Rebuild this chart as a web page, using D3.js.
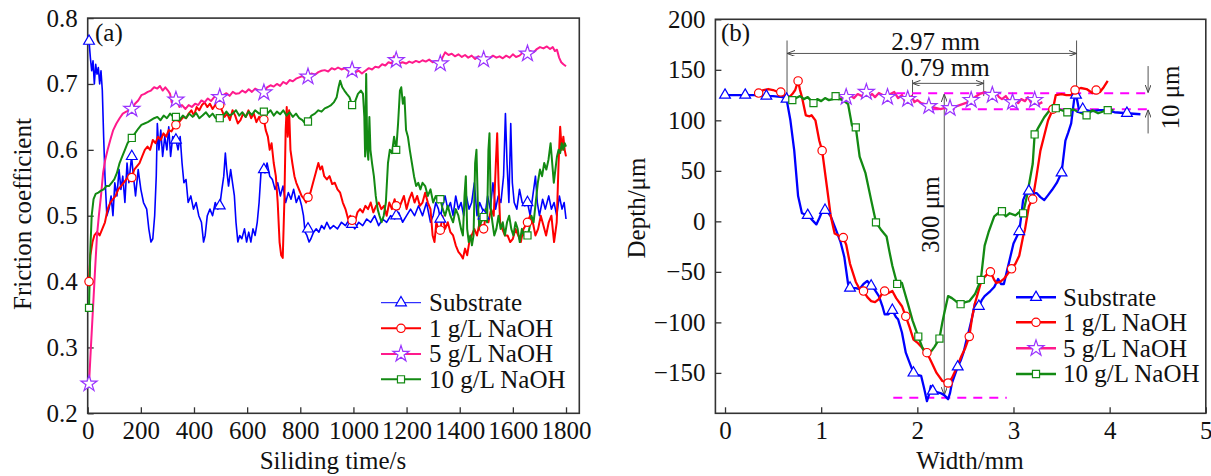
<!DOCTYPE html>
<html>
<head>
<meta charset="utf-8">
<script src="https://cdn.jsdelivr.net/npm/d3@7/dist/d3.min.js"></script>
<style>
  body { margin: 0; background: #fff; }
  svg text { font-family: "Liberation Serif", "Times New Roman", serif; fill: #111; }
</style>
</head>
<body>
<svg id="chart" width="1211" height="476"></svg>
<script>
// ---------- data: panel (a) friction coefficient vs sliding time ----------
const seriesNames = ['Substrate', '1 g/L NaOH', '5 g/L NaOH', '10 g/L NaOH'];
const fricTicks = [0.2, 0.3, 0.4, 0.5, 0.6, 0.7, 0.8];
const timeTicks = [0, 200, 400, 600, 800, 1000, 1200, 1400, 1600, 1800];

const fricSubstrate = [[0,0.77],[5,0.765],[10,0.74],[15,0.72],[20,0.735],[25,0.70],[30,0.73],[35,0.715],[40,0.725],[45,0.70],[50,0.72],[55,0.69],[60,0.62],[65,0.56],[72,0.50],[80,0.51],[88,0.53],[95,0.50],[102,0.55],[110,0.53],[118,0.57],[125,0.54],[132,0.56],[140,0.52],[148,0.58],[155,0.55],[165,0.59],[172,0.56],[180,0.53],[190,0.57],[200,0.54],[210,0.52],[222,0.51],[230,0.48],[238,0.46],[245,0.465],[252,0.50],[258,0.56],[262,0.64],[268,0.60],[275,0.63],[282,0.59],[290,0.62],[298,0.60],[305,0.635],[312,0.59],[320,0.62],[332,0.615],[340,0.60],[348,0.62],[355,0.58],[362,0.55],[370,0.555],[378,0.52],[388,0.53],[398,0.51],[408,0.52],[418,0.50],[428,0.49],[436,0.46],[442,0.47],[450,0.50],[460,0.51],[470,0.50],[480,0.52],[490,0.51],[497,0.515],[505,0.54],[512,0.56],[518,0.595],[523,0.57],[530,0.545],[538,0.57],[545,0.55],[552,0.53],[558,0.49],[565,0.46],[572,0.47],[580,0.465],[590,0.48],[598,0.46],[606,0.475],[614,0.46],[622,0.48],[630,0.47],[638,0.49],[645,0.52],[652,0.565],[660,0.575],[667,0.565],[675,0.58],[685,0.56],[695,0.555],[705,0.54],[715,0.55],[725,0.53],[735,0.545],[745,0.52],[755,0.535],[765,0.525],[775,0.54],[785,0.52],[795,0.53],[805,0.515],[812,0.50],[818,0.475],[825,0.47],[833,0.46],[840,0.465],[850,0.475],[860,0.48],[870,0.475],[880,0.485],[890,0.48],[900,0.49],[912,0.48],[925,0.485],[940,0.48],[955,0.49],[970,0.485],[985,0.495],[995,0.487],[1005,0.48],[1020,0.49],[1035,0.485],[1050,0.495],[1065,0.49],[1080,0.50],[1095,0.485],[1110,0.495],[1125,0.49],[1140,0.50],[1155,0.495],[1170,0.505],[1185,0.49],[1200,0.50],[1215,0.51],[1230,0.50],[1245,0.515],[1260,0.50],[1275,0.52],[1290,0.49],[1300,0.50],[1310,0.52],[1320,0.51],[1327,0.495],[1335,0.515],[1345,0.53],[1355,0.51],[1365,0.52],[1375,0.50],[1385,0.53],[1395,0.51],[1405,0.52],[1415,0.50],[1425,0.53],[1435,0.51],[1445,0.52],[1455,0.55],[1465,0.50],[1475,0.52],[1485,0.51],[1495,0.50],[1505,0.53],[1515,0.51],[1525,0.55],[1535,0.51],[1545,0.53],[1555,0.52],[1565,0.56],[1572,0.655],[1578,0.58],[1585,0.52],[1592,0.64],[1598,0.55],[1605,0.52],[1615,0.51],[1625,0.54],[1635,0.52],[1645,0.515],[1655,0.52],[1665,0.50],[1675,0.53],[1685,0.56],[1692,0.52],[1700,0.50],[1712,0.525],[1722,0.51],[1735,0.53],[1745,0.51],[1755,0.52],[1765,0.50],[1775,0.53],[1785,0.51],[1793,0.52],[1800,0.495]];

const fric1g = [[0,0.40],[5,0.40],[10,0.44],[18,0.46],[25,0.47],[35,0.475],[45,0.47],[55,0.48],[65,0.49],[75,0.51],[85,0.52],[95,0.525],[105,0.53],[115,0.54],[125,0.545],[135,0.55],[145,0.555],[155,0.56],[166,0.558],[175,0.57],[185,0.575],[195,0.58],[205,0.59],[215,0.60],[225,0.605],[235,0.60],[245,0.615],[255,0.61],[265,0.62],[275,0.615],[285,0.625],[295,0.62],[305,0.63],[315,0.628],[325,0.635],[332,0.638],[340,0.64],[350,0.645],[360,0.65],[370,0.648],[380,0.655],[390,0.66],[400,0.652],[410,0.665],[420,0.66],[430,0.668],[440,0.672],[450,0.665],[460,0.67],[470,0.662],[480,0.668],[490,0.672],[497,0.668],[505,0.66],[515,0.65],[525,0.655],[535,0.645],[545,0.66],[555,0.652],[565,0.64],[575,0.645],[585,0.655],[595,0.65],[605,0.66],[615,0.648],[625,0.655],[635,0.642],[645,0.65],[655,0.645],[663,0.646],[670,0.63],[678,0.62],[685,0.60],[692,0.61],[700,0.58],[708,0.56],[715,0.52],[722,0.46],[728,0.44],[734,0.436],[740,0.52],[745,0.63],[749,0.665],[753,0.62],[758,0.66],[763,0.60],[770,0.58],[778,0.56],[785,0.55],[795,0.54],[805,0.53],[815,0.525],[822,0.52],[829,0.528],[838,0.535],[848,0.55],[858,0.565],[868,0.58],[875,0.57],[882,0.575],[890,0.56],[900,0.555],[910,0.56],[920,0.548],[930,0.55],[940,0.54],[950,0.535],[960,0.52],[970,0.51],[980,0.495],[988,0.50],[995,0.493],[1005,0.49],[1015,0.505],[1025,0.51],[1035,0.505],[1045,0.515],[1055,0.51],[1065,0.52],[1075,0.505],[1085,0.515],[1095,0.52],[1105,0.51],[1115,0.515],[1125,0.50],[1135,0.52],[1145,0.51],[1155,0.525],[1161,0.515],[1170,0.51],[1180,0.52],[1190,0.53],[1200,0.51],[1210,0.525],[1220,0.535],[1230,0.52],[1240,0.53],[1250,0.515],[1260,0.52],[1270,0.535],[1280,0.52],[1290,0.51],[1298,0.47],[1305,0.46],[1312,0.49],[1320,0.478],[1327,0.478],[1335,0.50],[1345,0.48],[1355,0.49],[1365,0.475],[1375,0.47],[1385,0.455],[1395,0.445],[1405,0.44],[1412,0.435],[1420,0.45],[1428,0.44],[1436,0.46],[1445,0.47],[1455,0.48],[1465,0.47],[1475,0.49],[1485,0.48],[1490,0.48],[1498,0.50],[1508,0.49],[1518,0.51],[1528,0.50],[1536,0.58],[1541,0.625],[1546,0.55],[1552,0.49],[1560,0.48],[1570,0.47],[1580,0.47],[1590,0.46],[1600,0.465],[1610,0.48],[1620,0.47],[1630,0.46],[1640,0.48],[1648,0.485],[1655,0.49],[1665,0.50],[1675,0.49],[1685,0.47],[1695,0.48],[1705,0.50],[1715,0.485],[1725,0.47],[1735,0.49],[1745,0.50],[1755,0.46],[1765,0.49],[1772,0.58],[1778,0.635],[1784,0.60],[1790,0.62],[1795,0.60],[1800,0.59]];

const fric5g = [[0,0.245],[5,0.245],[12,0.30],[20,0.36],[28,0.42],[35,0.47],[42,0.50],[50,0.53],[58,0.565],[66,0.585],[75,0.60],[85,0.615],[96,0.63],[108,0.64],[120,0.648],[132,0.655],[145,0.658],[156,0.66],[166,0.662],[178,0.67],[190,0.675],[202,0.683],[214,0.685],[226,0.688],[238,0.69],[250,0.695],[262,0.693],[272,0.697],[282,0.69],[292,0.695],[302,0.69],[310,0.685],[316,0.672],[325,0.678],[335,0.676],[345,0.665],[355,0.668],[368,0.662],[380,0.668],[392,0.665],[404,0.67],[416,0.668],[428,0.675],[440,0.672],[452,0.678],[464,0.674],[476,0.68],[488,0.682],[497,0.68],[510,0.683],[522,0.686],[534,0.682],[546,0.688],[558,0.685],[570,0.686],[582,0.69],[594,0.687],[606,0.692],[618,0.688],[630,0.693],[645,0.69],[663,0.687],[675,0.695],[688,0.698],[700,0.696],[712,0.70],[724,0.697],[736,0.703],[748,0.70],[760,0.706],[772,0.704],[784,0.708],[796,0.71],[808,0.712],[818,0.708],[829,0.711],[842,0.716],[855,0.714],[868,0.718],[880,0.72],[892,0.721],[905,0.719],[918,0.724],[930,0.722],[942,0.725],[955,0.722],[968,0.724],[980,0.72],[995,0.721],[1008,0.718],[1020,0.72],[1032,0.716],[1045,0.72],[1058,0.724],[1070,0.722],[1082,0.726],[1095,0.725],[1108,0.73],[1120,0.728],[1132,0.733],[1145,0.731],[1152,0.742],[1161,0.736],[1172,0.731],[1185,0.733],[1198,0.731],[1210,0.734],[1222,0.732],[1235,0.735],[1248,0.733],[1260,0.736],[1272,0.734],[1285,0.737],[1298,0.733],[1310,0.735],[1320,0.734],[1327,0.731],[1335,0.74],[1345,0.748],[1358,0.744],[1370,0.746],[1382,0.742],[1395,0.745],[1408,0.741],[1420,0.744],[1432,0.74],[1445,0.743],[1458,0.738],[1470,0.742],[1482,0.738],[1490,0.737],[1500,0.741],[1512,0.739],[1525,0.743],[1538,0.74],[1550,0.742],[1562,0.739],[1575,0.743],[1588,0.74],[1600,0.745],[1612,0.741],[1625,0.743],[1638,0.748],[1648,0.745],[1655,0.746],[1665,0.75],[1678,0.748],[1690,0.753],[1702,0.756],[1715,0.754],[1728,0.757],[1740,0.753],[1750,0.756],[1758,0.75],[1766,0.752],[1774,0.74],[1782,0.733],[1790,0.73],[1800,0.727]];

const fric10g = [[0,0.36],[5,0.36],[10,0.45],[15,0.50],[22,0.525],[30,0.533],[40,0.535],[50,0.538],[60,0.54],[70,0.545],[80,0.545],[90,0.55],[100,0.555],[110,0.565],[120,0.58],[130,0.59],[140,0.60],[150,0.61],[166,0.618],[178,0.625],[190,0.632],[202,0.638],[214,0.64],[226,0.642],[238,0.645],[250,0.648],[262,0.65],[274,0.645],[286,0.652],[298,0.648],[310,0.655],[322,0.65],[332,0.65],[345,0.645],[358,0.652],[370,0.648],[382,0.655],[395,0.65],[408,0.656],[420,0.648],[432,0.652],[445,0.657],[458,0.65],[470,0.655],[482,0.648],[497,0.648],[510,0.652],[522,0.658],[534,0.652],[546,0.655],[558,0.66],[570,0.652],[582,0.657],[594,0.65],[606,0.658],[618,0.653],[630,0.66],[645,0.655],[663,0.658],[676,0.655],[688,0.66],[700,0.652],[712,0.658],[724,0.654],[736,0.66],[748,0.652],[760,0.657],[772,0.65],[784,0.655],[796,0.648],[808,0.645],[818,0.64],[829,0.643],[842,0.652],[855,0.655],[868,0.66],[880,0.658],[892,0.663],[904,0.665],[916,0.668],[926,0.672],[937,0.68],[944,0.695],[950,0.705],[958,0.695],[966,0.69],[975,0.685],[985,0.68],[995,0.668],[1005,0.672],[1017,0.685],[1028,0.69],[1036,0.685],[1041,0.65],[1044,0.59],[1048,0.715],[1052,0.60],[1056,0.585],[1060,0.65],[1064,0.60],[1070,0.58],[1077,0.56],[1084,0.53],[1091,0.51],[1098,0.50],[1106,0.49],[1114,0.50],[1122,0.52],[1130,0.58],[1137,0.60],[1145,0.595],[1153,0.62],[1161,0.60],[1168,0.64],[1175,0.69],[1180,0.695],[1186,0.67],[1192,0.68],[1198,0.63],[1205,0.62],[1212,0.60],[1220,0.58],[1228,0.56],[1236,0.545],[1244,0.55],[1252,0.54],[1260,0.55],[1270,0.545],[1280,0.53],[1290,0.54],[1300,0.52],[1310,0.53],[1320,0.52],[1327,0.525],[1336,0.51],[1345,0.50],[1355,0.515],[1365,0.50],[1375,0.49],[1385,0.51],[1395,0.50],[1405,0.48],[1412,0.47],[1418,0.53],[1423,0.56],[1428,0.48],[1434,0.46],[1440,0.47],[1446,0.455],[1452,0.47],[1458,0.58],[1463,0.60],[1468,0.52],[1474,0.48],[1480,0.49],[1490,0.498],[1497,0.51],[1503,0.49],[1508,0.60],[1512,0.625],[1517,0.51],[1523,0.49],[1530,0.47],[1538,0.48],[1546,0.50],[1554,0.48],[1562,0.49],[1570,0.47],[1578,0.49],[1586,0.50],[1594,0.48],[1602,0.47],[1610,0.49],[1618,0.48],[1626,0.46],[1634,0.48],[1642,0.47],[1648,0.475],[1655,0.47],[1662,0.48],[1670,0.50],[1678,0.49],[1686,0.52],[1694,0.55],[1702,0.57],[1710,0.56],[1718,0.58],[1726,0.57],[1734,0.585],[1742,0.61],[1748,0.58],[1754,0.55],[1760,0.57],[1766,0.59],[1772,0.60],[1778,0.595],[1784,0.61],[1790,0.60],[1795,0.61],[1800,0.605]];

// marker positions read from (a)
const fricMarkTimes = [5, 166, 332, 497, 663, 829, 995, 1161, 1327, 1490, 1655];
const fricMarkSubstrate = [0.765, 0.59, 0.615, 0.515, 0.57, 0.48, 0.487, 0.50, 0.495, 0.50, 0.52];
const fricMark1g = [0.40, 0.558, 0.638, 0.668, 0.646, 0.528, 0.493, 0.515, 0.478, 0.48, 0.49];
const fricMark5g = [0.245, 0.662, 0.676, 0.68, 0.687, 0.711, 0.721, 0.736, 0.731, 0.737, 0.746];
const fricMark10g = [0.36, 0.618, 0.65, 0.648, 0.658, 0.643, 0.668, 0.60, 0.525, 0.498, 0.47];

// ---------- data: panel (b) wear track depth profile ----------
const depthTicks = [-150, -100, -50, 0, 50, 100, 150, 200];
const widthTicks = [0, 1, 2, 3, 4, 5];

const profSubstrate = [[0.0,125],[0.1,125],[0.21,125],[0.3,125],[0.43,124],[0.5,124],[0.6,123],[0.64,121],[0.68,100],[0.72,70],[0.76,25],[0.8,8],[0.86,6],[0.92,0],[0.95,-3],[0.98,3],[1.02,12],[1.06,10],[1.1,5],[1.16,-10],[1.2,-20],[1.24,-35],[1.28,-62],[1.3,-66],[1.36,-66],[1.4,-67],[1.44,-62],[1.48,-59],[1.52,-64],[1.56,-68],[1.6,-74],[1.64,-85],[1.66,-92],[1.7,-92],[1.74,-88],[1.78,-95],[1.8,-97],[1.84,-110],[1.88,-130],[1.92,-140],[1.96,-150],[2.0,-152],[2.04,-153],[2.07,-165],[2.1,-178],[2.12,-172],[2.14,-163],[2.16,-168],[2.2,-169],[2.24,-170],[2.28,-172],[2.32,-176],[2.34,-170],[2.36,-160],[2.42,-144],[2.45,-138],[2.48,-130],[2.51,-118],[2.54,-107],[2.57,-95],[2.6,-81],[2.64,-84],[2.67,-78],[2.7,-74],[2.76,-69],[2.8,-65],[2.84,-57],[2.87,-62],[2.9,-62],[2.93,-50],[2.96,-38],[3.0,-22],[3.02,-18],[3.06,-10],[3.08,5],[3.1,21],[3.13,28],[3.16,30],[3.2,28],[3.24,28],[3.28,24],[3.32,21],[3.36,26],[3.4,31],[3.45,38],[3.5,48],[3.54,80],[3.57,88],[3.6,97],[3.63,120],[3.65,126],[3.68,111],[3.72,111],[3.8,109],[3.9,110],[3.96,110],[4.05,108],[4.18,107],[4.32,106]];

const prof1g = [[0.35,127],[0.4,130],[0.45,131],[0.5,130],[0.55,128],[0.58,128],[0.62,124],[0.64,123],[0.68,124],[0.7,126],[0.73,130],[0.76,139],[0.78,130],[0.8,123],[0.84,105],[0.88,104],[0.9,105],[0.94,100],[0.98,80],[1.01,70],[1.06,34],[1.1,5],[1.14,-12],[1.18,-14],[1.23,-16],[1.26,-23],[1.3,-42],[1.32,-48],[1.36,-60],[1.4,-67],[1.44,-69],[1.48,-75],[1.52,-79],[1.56,-80],[1.6,-77],[1.63,-72],[1.66,-69],[1.7,-71],[1.74,-69],[1.78,-76],[1.84,-84],[1.88,-94],[1.92,-105],[1.96,-117],[2.0,-120],[2.05,-125],[2.1,-130],[2.15,-140],[2.2,-150],[2.26,-158],[2.29,-159],[2.32,-160],[2.36,-155],[2.4,-147],[2.46,-133],[2.5,-125],[2.54,-114],[2.57,-95],[2.6,-81],[2.66,-61],[2.7,-55],[2.73,-52],[2.76,-50],[2.8,-58],[2.82,-61],[2.86,-60],[2.9,-57],[2.94,-52],[2.98,-47],[3.02,-42],[3.06,-34],[3.1,-15],[3.12,-8],[3.16,15],[3.2,22],[3.24,45],[3.28,70],[3.32,85],[3.36,100],[3.41,111],[3.44,125],[3.5,126],[3.55,125],[3.6,125],[3.64,130],[3.7,132],[3.76,131],[3.82,127],[3.86,130],[3.9,128],[3.94,133],[3.98,139]];

const prof5g = [[1.2,123],[1.24,121],[1.26,123],[1.3,125],[1.34,122],[1.38,126],[1.42,124],[1.47,128],[1.5,124],[1.53,126],[1.56,123],[1.6,127],[1.64,125],[1.69,123],[1.72,126],[1.76,128],[1.8,122],[1.84,125],[1.87,119],[1.9,121],[1.94,124],[1.97,118],[2.0,120],[2.04,117],[2.08,116],[2.12,114],[2.16,113],[2.2,112],[2.24,111],[2.28,112],[2.34,112],[2.38,113],[2.44,115],[2.5,117],[2.56,120],[2.6,123],[2.65,126],[2.7,128],[2.74,126],[2.78,125],[2.82,127],[2.85,123],[2.88,121],[2.92,124],[2.95,120],[2.99,118],[3.02,120],[3.05,117],[3.08,121],[3.12,119],[3.15,123],[3.18,118],[3.22,120],[3.26,116],[3.3,118]];

const prof10g = [[0.64,120],[0.7,120],[0.74,122],[0.78,124],[0.82,121],[0.86,123],[0.92,117],[0.96,121],[1.0,119],[1.04,122],[1.08,120],[1.12,121],[1.15,124],[1.18,121],[1.2,121],[1.24,119],[1.28,116],[1.32,95],[1.36,93],[1.4,64],[1.46,48],[1.52,21],[1.57,-1],[1.62,-8],[1.68,-15],[1.71,-30],[1.74,-44],[1.79,-62],[1.82,-60],[1.84,-61],[1.9,-81],[1.95,-98],[2.01,-114],[2.06,-127],[2.12,-130],[2.15,-128],[2.18,-124],[2.23,-116],[2.26,-100],[2.28,-91],[2.32,-74],[2.36,-76],[2.4,-79],[2.45,-82],[2.5,-80],[2.54,-79],[2.6,-72],[2.66,-58],[2.7,-24],[2.74,-11],[2.8,5],[2.84,8],[2.88,10],[2.92,5],[2.96,8],[3.02,6],[3.06,9],[3.1,8],[3.14,25],[3.2,57],[3.22,86],[3.26,93],[3.32,103],[3.4,113],[3.44,112],[3.5,110],[3.56,108],[3.62,111],[3.68,108],[3.76,105],[3.82,110],[3.88,107],[3.94,109],[3.98,110],[4.04,110]];

const profMarkSubstrate = [[0.0,125],[0.21,125],[0.43,124],[0.64,121],[0.86,6],[1.04,11],[1.3,-66],[1.52,-64],[1.74,-88],[1.96,-150],[2.16,-168],[2.42,-144],[2.64,-84],[3.06,-10],[3.16,30],[3.5,48],[3.65,125],[3.72,111],[4.18,107]];
const profMark1g = [[0.35,127],[0.58,128],[0.76,139],[1.01,70],[1.23,-16],[1.44,-69],[1.66,-69],[1.88,-94],[2.1,-130],[2.32,-160],[2.54,-114],[2.76,-50],[2.98,-47],[3.2,22],[3.41,111],[3.64,130],[3.86,130]];
const profMark5g = [[1.26,123],[1.47,128],[1.69,123],[1.9,121],[2.12,114],[2.34,112],[2.56,120],[2.78,125],[2.99,118],[3.22,120]];
const profMark10g = [[0.7,120],[0.92,117],[1.15,124],[1.36,93],[1.57,-1],[1.79,-62],[2.01,-114],[2.23,-116],[2.45,-82],[2.66,-58],[2.88,10],[3.1,8],[3.22,86],[3.44,112],[3.56,108],[3.76,105],[3.98,110]];

// ---------- styles ----------
const lineColors = ['#0000ff', '#ff0000', '#ff1a8c', '#138a13'];
const markColors = ['#0000ff', '#ff0000', '#9933ff', '#138a13'];
const symbols = [d3.symbolTriangle, d3.symbolCircle, d3.symbolStar, d3.symbolSquare];
const symSizes = [50, 55, 80, 50];
const FONT = 25;

const svg = d3.select('#chart');

const defs = svg.append('defs');
defs.append('marker')
  .attr('id', 'arr')
  .attr('viewBox', '0 0 8 6')
  .attr('refX', 8).attr('refY', 3)
  .attr('markerWidth', 8).attr('markerHeight', 6)
  .attr('markerUnits', 'userSpaceOnUse')
  .attr('orient', 'auto-start-reverse')
  .append('path')
  .attr('d', 'M0,0 L8,3 L0,6')
  .attr('fill', 'none')
  .attr('stroke', '#444')
  .attr('stroke-width', 1);

function frameAndAxes(x, y, xt, yt, xFmt, yFmt) {
  const [x0, x1] = x.range();
  const [y0, y1] = y.range();

  const gx = svg.append('g')
    .attr('transform', `translate(0,${y0})`)
    .call(d3.axisBottom(x).tickValues(xt).tickFormat(xFmt).tickSizeInner(-6).tickSizeOuter(0).tickPadding(8));
  const gy = svg.append('g')
    .attr('transform', `translate(${x0},0)`)
    .call(d3.axisLeft(y).tickValues(yt).tickFormat(yFmt).tickSizeInner(-6).tickSizeOuter(0).tickPadding(10));
  [gx, gy].forEach(g => {
    g.attr('font-family', null).attr('font-size', null);
    g.select('.domain').remove();
    g.selectAll('.tick line').attr('stroke', '#333').attr('stroke-width', 1.3);
    g.selectAll('.tick text').attr('font-size', FONT).attr('fill', '#111');
  });

  svg.append('rect')
    .attr('x', x0).attr('y', y1)
    .attr('width', x1 - x0).attr('height', y0 - y1)
    .attr('fill', 'none')
    .attr('stroke', '#333')
    .attr('stroke-width', 1.6);
}

function drawSeries(x, y, lines, marks, widths) {
  const line = d3.line().x(d => x(d[0])).y(d => y(d[1]));
  lines.forEach((data, i) => {
    svg.append('path')
      .datum(data)
      .attr('d', line)
      .attr('fill', 'none')
      .attr('stroke', lineColors[i])
      .attr('stroke-width', widths[i])
      .attr('stroke-linejoin', 'round');
  });
  marks.forEach((pts, i) => {
    svg.append('g').selectAll('path')
      .data(pts)
      .join('path')
      .attr('transform', d => `translate(${x(d[0])},${y(d[1])})`)
      .attr('d', d3.symbol(symbols[i], symSizes[i]))
      .attr('fill', 'white')
      .attr('stroke', markColors[i])
      .attr('stroke-width', 1.2);
  });
}

function legend(lx, tx, rows, widths) {
  rows.forEach((ry, i) => {
    svg.append('line')
      .attr('x1', lx[0]).attr('x2', lx[1])
      .attr('y1', ry).attr('y2', ry)
      .attr('stroke', lineColors[i])
      .attr('stroke-width', widths[i]);
    svg.append('path')
      .attr('transform', `translate(${(lx[0] + lx[1]) / 2},${ry})`)
      .attr('d', d3.symbol(symbols[i], symSizes[i]))
      .attr('fill', 'white')
      .attr('stroke', markColors[i])
      .attr('stroke-width', 1.2);
    svg.append('text')
      .attr('x', tx).attr('y', ry)
      .attr('dy', '0.33em')
      .attr('font-size', FONT)
      .text(seriesNames[i]);
  });
}

function vText(x, y, s) {
  svg.append('text')
    .attr('transform', `translate(${x},${y}) rotate(-90)`)
    .attr('text-anchor', 'middle')
    .attr('dy', '0.35em')
    .attr('font-size', FONT)
    .text(s);
}

// ================= panel (a) =================
const xA = d3.scaleLinear().domain([0, 1850]).range([87.7, 579.3]);
const yA = d3.scaleLinear().domain([0.2, 0.8]).range([413.3, 18.1]);

frameAndAxes(xA, yA, timeTicks, fricTicks, d3.format('d'), d3.format('.1f'));

const fricMarks = [fricMarkSubstrate, fricMark1g, fricMark5g, fricMark10g]
  .map(vals => vals.map((v, k) => [fricMarkTimes[k], v]));
drawSeries(xA, yA, [fricSubstrate, fric1g, fric5g, fric10g], fricMarks, [1.6, 2, 2, 2]);

legend([381, 421], 429, [302.7, 328.3, 354, 379.3], [1, 2, 2, 2]);

svg.append('text').attr('x', 95).attr('y', 41).attr('font-size', FONT).text('(a)');
svg.append('text').attr('x', 333).attr('y', 469).attr('text-anchor', 'middle')
  .attr('font-size', FONT).text('Siliding time/s');
vText(22, 214, 'Friction coefficient');

// ================= panel (b) =================
const xB = d3.scaleLinear().domain([-0.1, 5]).range([715.4, 1205.8]);
const yB = d3.scaleLinear().domain([-190, 200]).range([413.3, 19.3]);

frameAndAxes(xB, yB, widthTicks, depthTicks, d3.format('d'), d3.format('d'));

// annotations
const ann = svg.append('g').attr('stroke', '#555').attr('stroke-width', 1).attr('fill', 'none');
function seg(a, b, arrowStart, arrowEnd) {
  const l = ann.append('line')
    .attr('x1', xB(a[0])).attr('y1', yB(a[1]))
    .attr('x2', xB(b[0])).attr('y2', yB(b[1]));
  if (arrowStart) l.attr('marker-start', 'url(#arr)');
  if (arrowEnd) l.attr('marker-end', 'url(#arr)');
}
// 2.97 mm span
seg([0.645, 179], [0.645, 123]);
seg([3.656, 179], [3.656, 122]);
seg([0.645, 166.2], [3.656, 166.2], true, true);
// 0.79 mm span
seg([1.95, 140], [1.95, 123]);
seg([2.69, 140], [2.69, 124]);
seg([1.95, 136.6], [2.69, 136.6], true, true);
// 300 um depth
seg([2.28, 126], [2.28, -172], true, true);
// 10 um
seg([4.4, 153.7], [4.4, 127.5], false, true);
seg([4.4, 87], [4.4, 110.5], false, true);

const dash = svg.append('g').attr('stroke', '#ff00ff').attr('stroke-width', 2)
  .attr('stroke-dasharray', '9,7').attr('fill', 'none');
[[[1.78, 126.8], [4.44, 126.8]], [[2.13, 111], [4.44, 111]], [[1.75, -174.5], [2.93, -174.5]]]
  .forEach(([a, b]) => dash.append('line')
    .attr('x1', xB(a[0])).attr('y1', yB(a[1])).attr('x2', xB(b[0])).attr('y2', yB(b[1])));

drawSeries(xB, yB, [profSubstrate, prof1g, prof5g, prof10g],
  [profMarkSubstrate, profMark1g, profMark5g, profMark10g], [2.3, 2.3, 2.3, 2.3]);

legend([1016, 1056], 1063, [297.3, 322.3, 348.3, 374], [2.5, 2.5, 2.5, 2.5]);

svg.append('text').attr('x', xB(2.19)).attr('y', yB(169.5)).attr('text-anchor', 'middle')
  .attr('font-size', FONT).text('2.97 mm');
svg.append('text').attr('x', xB(2.29)).attr('y', yB(143.5)).attr('text-anchor', 'middle')
  .attr('font-size', FONT).text('0.79 mm');
vText(xB(2.13), yB(6.6), '300 μm');
vText(xB(4.63), yB(122.6), '10 μm');

svg.append('text').attr('x', 721).attr('y', 41).attr('font-size', FONT).text('(b)');
svg.append('text').attr('x', 970).attr('y', 469).attr('text-anchor', 'middle')
  .attr('font-size', FONT).text('Width/mm');
vText(636, 208, 'Depth/μm');
</script>
</body>
</html>
